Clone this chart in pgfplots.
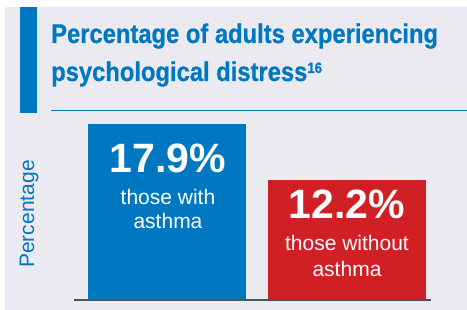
\documentclass[border=0pt]{standalone}
\usepackage{fontspec}
\setmainfont{Liberation Sans}
\newfontfamily\titlefont[FakeStretch=0.88,FakeBold=0.6]{Liberation Sans}
\usepackage{pgfplots}
\pgfplotsset{compat=1.18}
\definecolor{bgc}{HTML}{EBEAF0}
\definecolor{ablue}{HTML}{0077C1}
\definecolor{ared}{HTML}{D11F26}
\definecolor{agray}{HTML}{50535A}
\begin{document}
\begin{tikzpicture}[x=1pt,y=1pt]
\useasboundingbox (0,0) rectangle (467,310);
\fill[bgc] (5,0) rectangle (467,303);
\fill[ablue] (20,197.3) rectangle (37,303);
\fill[ablue] (51,198.5) rectangle (467,199.5);
\node[anchor=base west, inner sep=0, text=ablue] at (51,267) {\titlefont\bfseries\fontsize{27}{30}\selectfont Percentage of adults experiencing};
\node[anchor=base west, inner sep=0, text=ablue] at (51,229) {\titlefont\bfseries\fontsize{27}{30}\selectfont psychological distress\raisebox{8pt}{\fontsize{15}{15}\selectfont 16}};
\node[rotate=90, inner sep=0, text=ablue] at (29,96) {\fontsize{21}{24}\selectfont Percentage};
\begin{axis}[
  at={(74pt,10pt)}, anchor=south west,
  x=180pt, y=9.82pt,
  xmin=-0.5167, xmax=1.467, ymin=0, ymax=18,
  axis x line=bottom, axis y line=none,
  x axis line style={-, line width=1.6pt, color=agray},
  xtick=\empty, ytick=\empty,
  ybar, bar width=158pt, bar shift=0pt,
  axis on top, clip=false,
]
\addplot[fill=ablue, draw=none] coordinates {(0,17.9)};
\addplot[fill=ared, draw=none] coordinates {(1,12.2)};
\end{axis}
\node[anchor=base, inner sep=0, text=white] at (168,137) {\bfseries\fontsize{41}{45}\selectfont 17.9\%};
\node[anchor=base, inner sep=0, text=white] at (168,105) {\fontsize{21}{24}\selectfont those with};
\node[anchor=base, inner sep=0, text=white] at (168,81) {\fontsize{21}{24}\selectfont asthma};
\node[anchor=base, inner sep=0, text=white] at (347,91) {\bfseries\fontsize{41}{45}\selectfont 12.2\%};
\node[anchor=base, inner sep=0, text=white] at (347,59) {\fontsize{21}{24}\selectfont those without};
\node[anchor=base, inner sep=0, text=white] at (347,33) {\fontsize{21}{24}\selectfont asthma};
\end{tikzpicture}
\end{document}
